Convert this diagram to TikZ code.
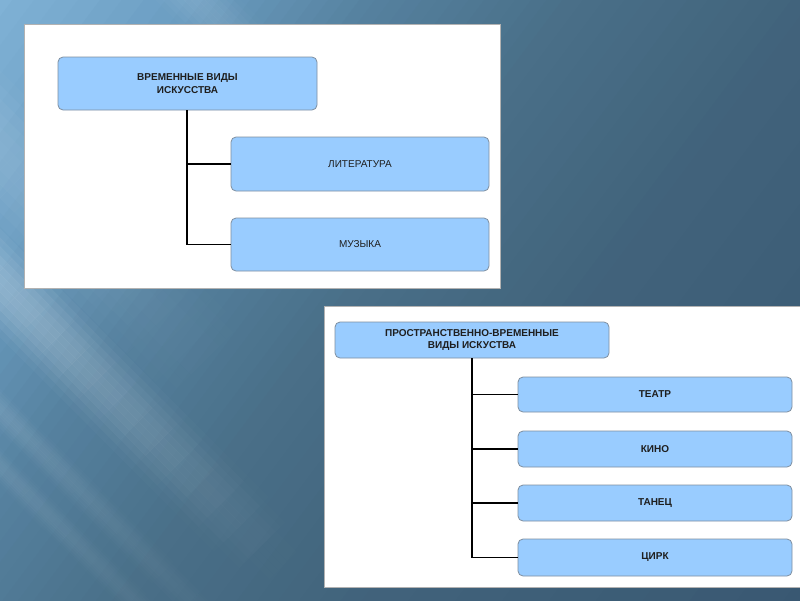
\documentclass[tikz,border=0pt]{standalone}
\usepackage{fontspec}
\setmainfont{Liberation Sans}
\definecolor{boxfill}{HTML}{99CCFF}
\definecolor{boxline}{HTML}{7F8FA0}
\definecolor{txt}{HTML}{1E1E1E}
\definecolor{bga}{HTML}{88BADE}
\definecolor{bgb}{HTML}{6C9EC2}
\definecolor{bgc}{HTML}{55819F}
\definecolor{bgd}{HTML}{4A7089}
\definecolor{bge}{HTML}{41637B}
\definecolor{bgf}{HTML}{375570}
% base linear gradient along direction (0.8,0.6)
\newcommand\bgsegment[4]{%
  \foreach \k in {0,...,11}{%
    \pgfmathsetmacro\ta{#1+(#2-#1)/12*\k}%
    \pgfmathsetmacro\tb{#1+(#2-#1)/12*(\k+1)+0.8}%
    \pgfmathsetmacro\pc{(\k+0.5)/12*100}%
    \pgfmathsetmacro\xa{\ta*0.8-900}\pgfmathsetmacro\ya{\ta*0.6+1200}%
    \pgfmathsetmacro\xb{\ta*0.8+900}\pgfmathsetmacro\yb{\ta*0.6-1200}%
    \pgfmathsetmacro\xc{\tb*0.8+900}\pgfmathsetmacro\yc{\tb*0.6-1200}%
    \pgfmathsetmacro\xd{\tb*0.8-900}\pgfmathsetmacro\yd{\tb*0.6+1200}%
    \fill[#4!\pc!#3] (\xa,\ya) -- (\xb,\yb) -- (\xc,\yc) -- (\xd,\yd) -- cycle;
  }}
% light diagonal streak: centre s0, half width w, peak opacity a, from t0 to t1, fading out after tf
\newcommand\lightstreak[6]{%
  \foreach \i in {0,...,13}{%
    \pgfmathsetmacro\sa{#1-#2+2*#2/14*\i}%
    \pgfmathsetmacro\sb{#1-#2+2*#2/14*(\i+1)}%
    \pgfmathsetmacro\prof{(\i+0.5)/7-1}%
    \pgfmathsetmacro\prof{1-\prof*\prof}%
    \pgfmathsetmacro\prof{\prof*\prof}%
    \foreach \j in {0,...,23}{%
      \pgfmathsetmacro\ta{#4+(#5-(#4))/24*\j}%
      \pgfmathsetmacro\tb{#4+(#5-(#4))/24*(\j+1)}%
      \pgfmathsetmacro\tm{(\ta+\tb)/2}%
      \pgfmathsetmacro\fout{(#5-\tm)/(#5-#6)}%
      \pgfmathsetmacro\fout{min(1,max(0,\fout))}%
      \pgfmathsetmacro\fin{(\tm-(#4))/60}%
      \pgfmathsetmacro\fin{min(1,\fin)}%
      \pgfmathsetmacro\op{#3*\prof*\fout*\fin}%
      \pgfmathsetmacro\xa{(\sa+\ta)*0.7071}\pgfmathsetmacro\ya{(\ta-\sa)*0.7071}%
      \pgfmathsetmacro\xb{(\sb+\ta)*0.7071}\pgfmathsetmacro\yb{(\ta-\sb)*0.7071}%
      \pgfmathsetmacro\xc{(\sb+\tb)*0.7071}\pgfmathsetmacro\yc{(\tb-\sb)*0.7071}%
      \pgfmathsetmacro\xd{(\sa+\tb)*0.7071}\pgfmathsetmacro\yd{(\tb-\sa)*0.7071}%
      \fill[white, fill opacity=\op] (\xa,\ya) -- (\xb,\yb) -- (\xc,\yc) -- (\xd,\yd) -- cycle;
    }}}
\tikzset{
  box/.style={draw=boxline, line width=0.8pt, fill=boxfill, rounded corners=5pt, inner sep=0pt, align=center, text=txt, font=\fontsize{10}{12.3}\selectfont\bfseries},
  plainbox/.style={box, font=\fontsize{10}{12.3}\selectfont},
  panel/.style={fill=white, draw=black!30, line width=0.6pt},
  link/.style={draw=black, line width=1.8pt}
}
\begin{document}
\begin{tikzpicture}[x=1pt,y=-1pt]
\useasboundingbox (0,0) rectangle (800,600);
\begin{scope}
\clip (0,0) rectangle (800,600);
\bgsegment{-60}{150}{bga}{bgb}
\bgsegment{150}{300}{bgb}{bgc}
\bgsegment{300}{450}{bgc}{bgd}
\bgsegment{450}{650}{bgd}{bge}
\bgsegment{650}{1100}{bge}{bgf}
\lightstreak{-200}{45}{0.24}{-100}{600}{230}
\lightstreak{-110}{70}{0.12}{-60}{420}{120}
\lightstreak{-290}{18}{0.10}{180}{660}{300}
\lightstreak{-330}{16}{0.08}{230}{700}{360}
\lightstreak{140}{35}{0.10}{40}{330}{140}
\end{scope}
% panel 1
\path[panel] (24,24) rectangle (500,288);
\node[box, minimum width=259pt, minimum height=53pt] (t1) at (187.5,83.5) {ВРЕМЕННЫЕ ВИДЫ\\ИСКУССТВА};
\node[plainbox, minimum width=258pt, minimum height=54pt] (lit) at (360,164) {ЛИТЕРАТУРА};
\node[plainbox, minimum width=258pt, minimum height=53pt] (mus) at (360,244.5) {МУЗЫКА};
\coordinate (c1) at (187,0);
\draw[link] (t1.south -| c1) |- (mus.west);
\draw[link] (lit.west -| c1) -- (lit.west);
% panel 2
\path[panel] (324,306) rectangle (805,587);
\node[box, minimum width=274pt, minimum height=36pt] (t2) at (472,340) {ПРОСТРАНСТВЕННО-ВРЕМЕННЫЕ\\ВИДЫ ИСКУСТВА};
\node[box, minimum width=274pt, minimum height=35pt] (a) at (655,394.5) {ТЕАТР};
\node[box, minimum width=274pt, minimum height=36pt] (b) at (655,449) {КИНО};
\node[box, minimum width=274pt, minimum height=36pt] (c) at (655,503) {ТАНЕЦ};
\node[box, minimum width=274pt, minimum height=37pt] (d) at (655,557.5) {ЦИРК};
\coordinate (c2) at (472,0);
\draw[link] (t2.south -| c2) |- (d.west);
\draw[link] (a.west -| c2) -- (a.west);
\draw[link] (b.west -| c2) -- (b.west);
\draw[link] (c.west -| c2) -- (c.west);
\end{tikzpicture}
\end{document}
